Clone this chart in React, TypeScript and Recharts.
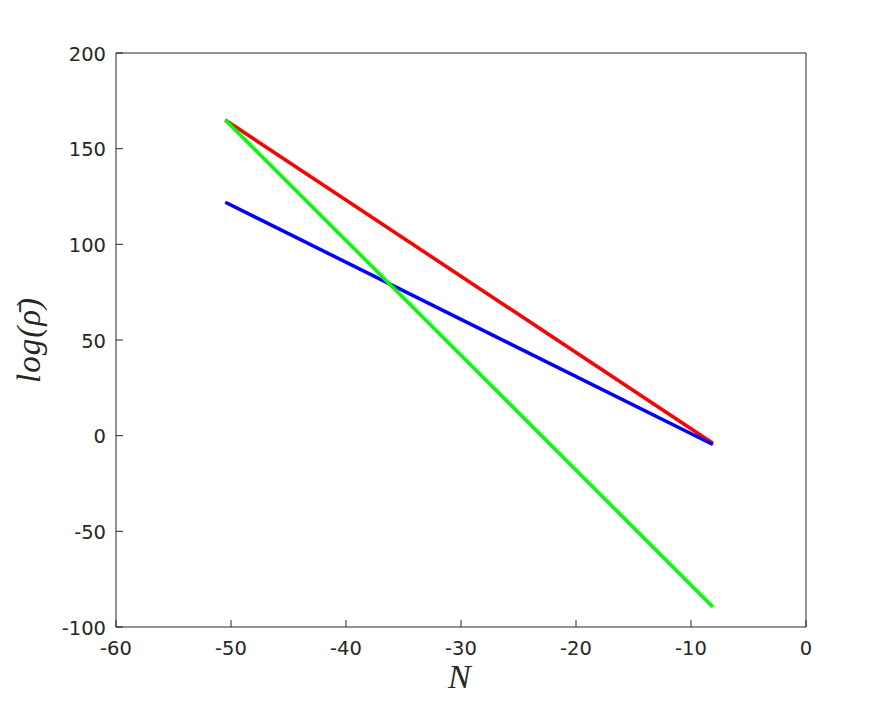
import React from "react";
import { LineChart, Line, XAxis, YAxis } from "recharts";

const xs = [-50.5, -8.1];
const redVals = [165, -4];
const blueVals = [122, -4.6];
const greenVals = [165, -89.5];
const xTicks = [-60, -50, -40, -30, -20, -10, 0];
const yTicks = [-100, -50, 0, 50, 100, 150, 200];

const mk = (vals: number[]) => xs.map((x, i) => ({ x, y: vals[i] }));
const redData = mk(redVals);
const blueData = mk(blueVals);
const greenData = mk(greenVals);

const AX = "#262626";
const TL = 7;
const FONT = "'DejaVu Sans', sans-serif";
const FS = 19.5;

const BottomTick = (p: any) => (
  <g>
    <line x1={p.x} y1={p.y} x2={p.x} y2={p.y - TL} stroke={AX} strokeWidth={1} />
    <text x={p.x} y={p.y + 28} textAnchor="middle" fontSize={FS} fill={AX} fontFamily={FONT}>
      {p.payload.value}
    </text>
  </g>
);
const TopTick = (p: any) => (
  <line x1={p.x} y1={p.y} x2={p.x} y2={p.y + TL} stroke={AX} strokeWidth={1} />
);
const LeftTick = (p: any) => (
  <g>
    <line x1={p.x} y1={p.y} x2={p.x + TL} y2={p.y} stroke={AX} strokeWidth={1} />
    <text x={p.x - 10} y={p.y + 7.5} textAnchor="end" fontSize={FS} fill={AX} fontFamily={FONT}>
      {p.payload.value}
    </text>
  </g>
);
const RightTick = (p: any) => (
  <line x1={p.x} y1={p.y} x2={p.x - TL} y2={p.y} stroke={AX} strokeWidth={1} />
);

export default function App() {
  return (
    <div style={{ position: "relative", width: 875, height: 687 }}>
      <LineChart width={875} height={687} margin={{ top: 44, right: 76, bottom: 67, left: 107 }}>
        <XAxis dataKey="x" type="number" domain={[-60, 0]} ticks={xTicks} allowDataOverflow interval={0}
          tickSize={0} tickMargin={0} tickLine={false} tick={<BottomTick />} axisLine={{ stroke: AX }} height={1} />
        <XAxis xAxisId="top" orientation="top" dataKey="x" type="number" domain={[-60, 0]} ticks={xTicks} interval={0}
          tickSize={0} tickMargin={0} tickLine={false} tick={<TopTick />} axisLine={{ stroke: AX }} height={1} />
        <YAxis type="number" domain={[-100, 200]} ticks={yTicks} allowDataOverflow interval={0}
          tickSize={0} tickMargin={0} tickLine={false} tick={<LeftTick />} axisLine={{ stroke: AX }} width={1} />
        <YAxis yAxisId="right" orientation="right" type="number" domain={[-100, 200]} ticks={yTicks} interval={0}
          tickSize={0} tickMargin={0} tickLine={false} tick={<RightTick />} axisLine={{ stroke: AX }} width={1} />
        <Line data={redData} dataKey="y" stroke="#ff0000" strokeWidth={3.5} dot={false} isAnimationActive={false} />
        <Line data={blueData} dataKey="y" stroke="#0000ff" strokeWidth={3.5} dot={false} isAnimationActive={false} />
        <Line data={greenData} dataKey="y" stroke="#00ff00" strokeWidth={3.5} dot={false} isAnimationActive={false} />
      </LineChart>
      <div style={{ position: "absolute", left: 440, top: 650, fontFamily: "'Liberation Serif', serif", fontStyle: "italic", fontSize: 34, color: AX }}>
        N
      </div>
      <div style={{ position: "absolute", left: 21, top: 332, transform: "translate(-50%, -50%) rotate(-90deg)", fontFamily: "'Liberation Serif', serif", fontStyle: "italic", fontSize: 33, color: AX, whiteSpace: "nowrap", letterSpacing: 1 }}>
        log(ρ̄)
      </div>
    </div>
  );
}
